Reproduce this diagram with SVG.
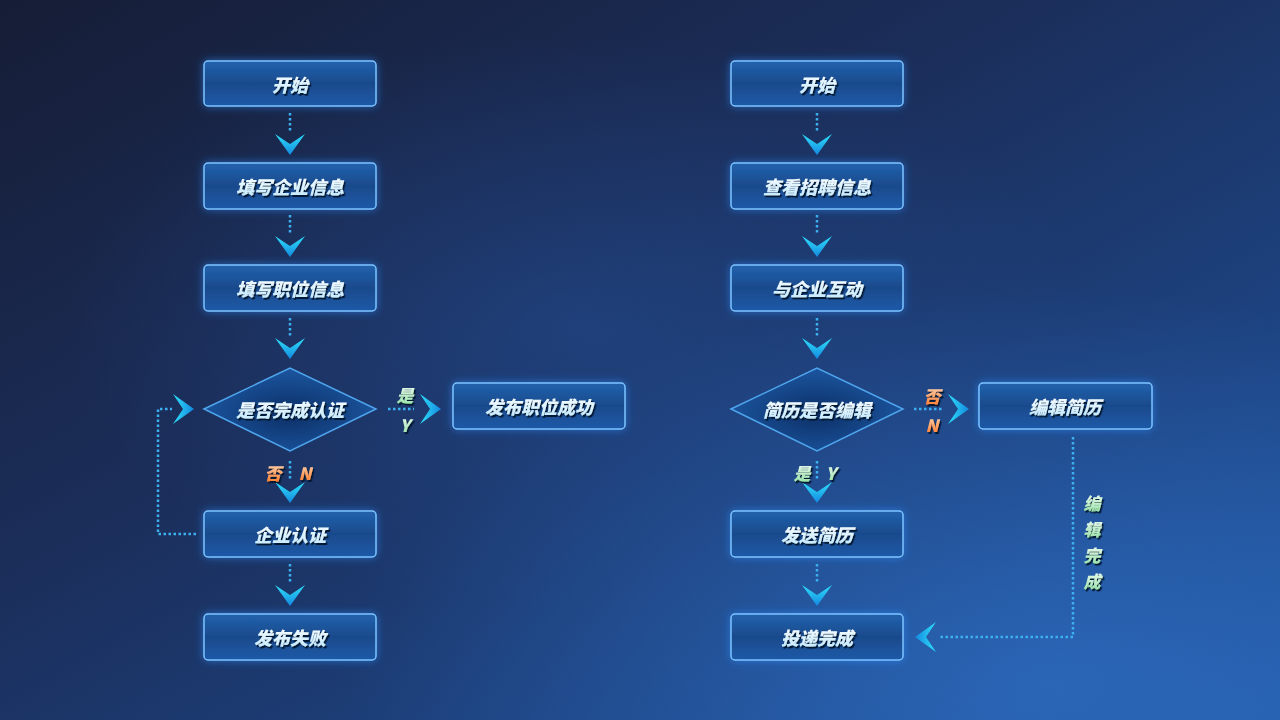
<svg xmlns="http://www.w3.org/2000/svg" width="1280" height="720" viewBox="0 0 1280 720">
<defs>
<linearGradient id="bg" x1="0" y1="0" x2="1" y2="1">
<stop offset="0" stop-color="#161d36"/>
<stop offset="0.4" stop-color="#1b2e5a"/>
<stop offset="0.75" stop-color="#1d4483"/>
<stop offset="1" stop-color="#2258a4"/>
</linearGradient>
<radialGradient id="glow" cx="0.82" cy="0.95" r="0.55">
<stop offset="0" stop-color="#2f6fc4" stop-opacity="0.7"/>
<stop offset="1" stop-color="#2f6fc4" stop-opacity="0"/>
</radialGradient>
<radialGradient id="glow2" cx="0.45" cy="0.45" r="0.4">
<stop offset="0" stop-color="#24519a" stop-opacity="0.45"/>
<stop offset="1" stop-color="#24519a" stop-opacity="0"/>
</radialGradient>
<linearGradient id="boxFill" x1="0" y1="0" x2="0" y2="1">
<stop offset="0" stop-color="#2262ae"/>
<stop offset="0.5" stop-color="#194a8c"/>
<stop offset="1" stop-color="#1e5aa8"/>
</linearGradient>
<radialGradient id="diaFill" cx="0.5" cy="0.55" r="0.6">
<stop offset="0" stop-color="#0c2f66"/>
<stop offset="1" stop-color="#1d5aa6"/>
</radialGradient>
<linearGradient id="chev" x1="0" y1="0" x2="0" y2="1">
<stop offset="0" stop-color="#2ee0fa"/>
<stop offset="1" stop-color="#1488e0"/>
</linearGradient>
<linearGradient id="txt" x1="0" y1="0" x2="0" y2="1">
<stop offset="0" stop-color="#ffffff"/>
<stop offset="1" stop-color="#bfe8ff"/>
</linearGradient>
<linearGradient id="green" x1="0" y1="0" x2="0" y2="1">
<stop offset="0" stop-color="#ffffff"/>
<stop offset="1" stop-color="#8ee0a0"/>
</linearGradient>
<linearGradient id="orange" x1="0" y1="0" x2="0" y2="1">
<stop offset="0" stop-color="#ffe6cc"/>
<stop offset="1" stop-color="#ff7420"/>
</linearGradient>
<filter id="boxGlow" x="-20%" y="-40%" width="140%" height="180%">
<feGaussianBlur in="SourceAlpha" stdDeviation="4" result="b"/>
<feFlood flood-color="#2a8cff" flood-opacity="0.6"/>
<feComposite in2="b" operator="in" result="g"/>
<feMerge><feMergeNode in="g"/><feMergeNode in="SourceGraphic"/></feMerge>
</filter>
<filter id="tShadow" x="-10%" y="-20%" width="130%" height="150%">
<feDropShadow dx="1.5" dy="2" stdDeviation="0.5" flood-color="#06152e" flood-opacity="0.95"/>
</filter>
<path id="chevD" d="M-15,-21 L0,-11 L15,-21 L0,0 Z"/>
</defs>
<style>
.box{fill:url(#boxFill);stroke:#7cc4ff;stroke-width:1.5;filter:url(#boxGlow)}
.dia{fill:url(#diaFill);stroke:#4fa6ee;stroke-width:1.5}
.lbl{font-family:"Noto Sans CJK SC","Noto Sans",sans-serif;font-size:18px;font-weight:900;font-style:italic;fill:url(#txt);text-anchor:middle;dominant-baseline:central;filter:url(#tShadow)}
.yes{font-family:"Noto Sans CJK SC","Noto Sans",sans-serif;font-size:17px;font-weight:900;font-style:italic;fill:url(#green);text-anchor:middle;dominant-baseline:central;filter:url(#tShadow)}
.no{font-family:"Noto Sans CJK SC","Noto Sans",sans-serif;font-size:17px;font-weight:900;font-style:italic;fill:url(#orange);text-anchor:middle;dominant-baseline:central;filter:url(#tShadow)}
.dot{fill:none;stroke:#3cb0f0;stroke-width:2.5;stroke-dasharray:2.5 2.5}
.chev{fill:url(#chev)}
</style>
<rect width="1280" height="720" fill="url(#bg)"/>
<rect width="1280" height="720" fill="url(#glow)"/>
<rect width="1280" height="720" fill="url(#glow2)"/>

<g id="connectors">
<path class="dot" d="M290,113 V133"/>
<path class="dot" d="M290,215 V235"/>
<path class="dot" d="M290,318 V338"/>
<path class="dot" d="M290,461 V481"/>
<path class="dot" d="M290,564 V584"/>
<path class="dot" d="M388,409 H414"/>
<path class="dot" d="M196,534 H158 V409 H172"/>
<use href="#chevD" class="chev" transform="translate(290,155)"/>
<use href="#chevD" class="chev" transform="translate(290,257)"/>
<use href="#chevD" class="chev" transform="translate(290,359)"/>
<use href="#chevD" class="chev" transform="translate(290,503)"/>
<use href="#chevD" class="chev" transform="translate(290,606)"/>
<use href="#chevD" class="chev" transform="translate(441,409) rotate(-90)"/>
<use href="#chevD" class="chev" transform="translate(194,409) rotate(-90)"/>
<text class="yes" x="405" y="394">是</text>
<text class="yes" x="405" y="424">Y</text>
<text class="no" x="273" y="472">否</text>
<text class="no" x="305" y="472">N</text>

<path class="dot" d="M817,113 V133"/>
<path class="dot" d="M817,215 V235"/>
<path class="dot" d="M817,318 V338"/>
<path class="dot" d="M817,461 V481"/>
<path class="dot" d="M817,564 V584"/>
<path class="dot" d="M914,409 H944"/>
<path class="dot" d="M1073,437 V637 H940"/>
<use href="#chevD" class="chev" transform="translate(817,155)"/>
<use href="#chevD" class="chev" transform="translate(817,257)"/>
<use href="#chevD" class="chev" transform="translate(817,359)"/>
<use href="#chevD" class="chev" transform="translate(817,503)"/>
<use href="#chevD" class="chev" transform="translate(817,606)"/>
<use href="#chevD" class="chev" transform="translate(969,409) rotate(-90)"/>
<use href="#chevD" class="chev" transform="translate(915,637) rotate(90)"/>
<text class="no" x="932" y="395">否</text>
<text class="no" x="932" y="424">N</text>
<text class="yes" x="802" y="472">是</text>
<text class="yes" x="831" y="472">Y</text>
<text class="yes" x="1092" y="502">编</text>
<text class="yes" x="1092" y="528">辑</text>
<text class="yes" x="1092" y="554">完</text>
<text class="yes" x="1092" y="580">成</text>
</g>

<g id="l-start"><rect class="box" x="204" y="61" width="172" height="45" rx="4"/><text class="lbl" x="290" y="83.5">开始</text></g>
<g id="l-company"><rect class="box" x="204" y="163" width="172" height="46" rx="4"/><text class="lbl" x="290" y="186">填写企业信息</text></g>
<g id="l-job"><rect class="box" x="204" y="265" width="172" height="46" rx="4"/><text class="lbl" x="290" y="288">填写职位信息</text></g>
<g id="l-decision"><polygon class="dia" points="204,409 290,368 376,409 290,451"/><text class="lbl" x="290" y="409">是否完成认证</text></g>
<g id="l-success"><rect class="box" x="453" y="383" width="172" height="46" rx="4"/><text class="lbl" x="539" y="406">发布职位成功</text></g>
<g id="l-verify"><rect class="box" x="204" y="511" width="172" height="46" rx="4"/><text class="lbl" x="290" y="534">企业认证</text></g>
<g id="l-fail"><rect class="box" x="204" y="614" width="172" height="46" rx="4"/><text class="lbl" x="290" y="637">发布失败</text></g>

<g id="r-start"><rect class="box" x="731" y="61" width="172" height="45" rx="4"/><text class="lbl" x="817" y="83.5">开始</text></g>
<g id="r-view"><rect class="box" x="731" y="163" width="172" height="46" rx="4"/><text class="lbl" x="817" y="186">查看招聘信息</text></g>
<g id="r-interact"><rect class="box" x="731" y="265" width="172" height="46" rx="4"/><text class="lbl" x="817" y="288">与企业互动</text></g>
<g id="r-decision"><polygon class="dia" points="731,409 817,368 903,409 817,451"/><text class="lbl" x="817" y="409">简历是否编辑</text></g>
<g id="r-edit"><rect class="box" x="979" y="383" width="173" height="46" rx="4"/><text class="lbl" x="1065" y="406">编辑简历</text></g>
<g id="r-send"><rect class="box" x="731" y="511" width="172" height="46" rx="4"/><text class="lbl" x="817" y="534">发送简历</text></g>
<g id="r-done"><rect class="box" x="731" y="614" width="172" height="46" rx="4"/><text class="lbl" x="817" y="637">投递完成</text></g>
</svg>
